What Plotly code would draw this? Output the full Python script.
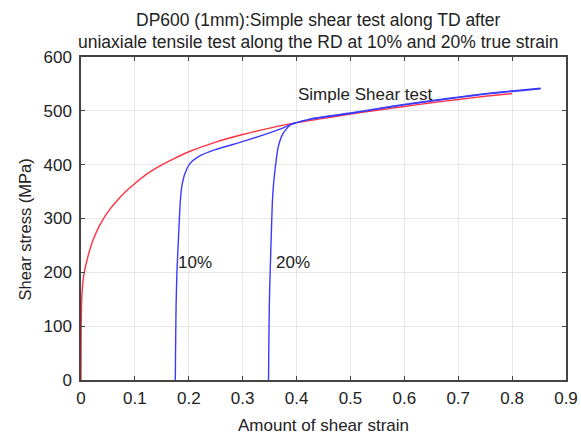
import plotly.graph_objects as go

# Monotonic simple shear curve (red)
shear_x = [0, 0.0003, 0.001, 0.002, 0.004, 0.007, 0.011, 0.016, 0.022, 0.03,
           0.04, 0.052, 0.066, 0.082, 0.1, 0.12, 0.143, 0.17, 0.2, 0.25,
           0.3, 0.35, 0.4, 0.45, 0.5, 0.55, 0.6, 0.65, 0.7, 0.75, 0.8]
shear_y = [0, 85, 140, 163, 186, 205, 222, 241, 259, 278,
           297, 315, 332, 349, 365, 381, 396, 410, 424, 442,
           456, 468, 478, 486, 494, 501, 508, 515, 521, 527, 532]

# Shear after 10% uniaxial pre-strain (blue)
pre10_x = [0.175, 0.1755, 0.1765, 0.178, 0.181, 0.184, 0.187, 0.193, 0.202, 0.218,
           0.249, 0.28, 0.31, 0.372, 0.393, 0.43, 0.5, 0.555, 0.6, 0.65, 0.703,
           0.75, 0.8, 0.853]
pre10_y = [0, 60, 140, 200, 266, 328, 359, 384, 402, 415,
           428, 437, 446, 467, 476, 485, 495, 504, 511, 518, 525,
           531, 536, 541]

# Shear after 20% uniaxial pre-strain (blue)
pre20_x = [0.348, 0.3485, 0.3495, 0.351, 0.353, 0.355, 0.357, 0.36, 0.366, 0.375,
           0.388, 0.4, 0.43, 0.5, 0.555, 0.6, 0.65, 0.703, 0.75, 0.8, 0.853]
pre20_y = [0, 60, 140, 200, 266, 328, 360, 390, 433, 458,
           474, 478, 486, 496, 505, 512, 519, 526, 532, 537, 542]

x_ticks = [0, 0.1, 0.2, 0.3, 0.4, 0.5, 0.6, 0.7, 0.8, 0.9]
x_tick_text = ["0", "0.1", "0.2", "0.3", "0.4", "0.5", "0.6", "0.7", "0.8", "0.9"]
y_ticks = [0, 100, 200, 300, 400, 500, 600]

labels = [("10%", 0.177, 219), ("20%", 0.359, 219), ("Simple Shear test", 0.399, 531)]
title_lines = ["DP600 (1mm):Simple shear test along TD after",
               "uniaxiale tensile test along the RD at 10% and 20% true strain"]

RED = "#ff3344"
BLUE = "#3b3bff"
INK = "#222222"
FONT = "Liberation Sans, Arial, sans-serif"
FS = 17

fig = go.Figure()
for xs, ys, col in [(shear_x, shear_y, RED), (pre10_x, pre10_y, BLUE), (pre20_x, pre20_y, BLUE)]:
    fig.add_trace(go.Scatter(x=xs, y=ys, mode="lines",
                             line=dict(color=col, width=1.4, shape="spline", smoothing=0.5)))

for text, lx, ly in labels:
    fig.add_annotation(x=lx, y=ly, text=text, showarrow=False, xanchor="left",
                       yanchor="middle", font=dict(size=FS, color=INK, family=FONT))

# Two-line heading placed above the plotting area
for line, yp in zip(title_lines, [1.1146, 1.0464]):
    fig.add_annotation(x=0.49, y=yp, xref="paper", yref="paper", text=line,
                       showarrow=False, xanchor="center", yanchor="middle",
                       font=dict(size=17.5, color=INK, family=FONT))

# Vertical axis caption
fig.add_annotation(x=-0.115, y=0.467, xref="paper", yref="paper", text="Shear stress (MPa)",
                   textangle=-90, showarrow=False, xanchor="center", yanchor="middle",
                   font=dict(size=16.5, color=INK, family=FONT))

axis_common = dict(showline=True, linecolor="#444444", linewidth=1.5, mirror="ticks",
                   ticks="inside", ticklen=4, tickcolor="#444444", automargin=False,
                   showgrid=True, gridcolor="#e6e6e6", gridwidth=1, zeroline=False,
                   tickfont=dict(size=FS, color=INK, family=FONT))

fig.update_layout(
    width=581, height=435,
    margin=dict(l=81, r=15, t=57, b=55),
    paper_bgcolor="white", plot_bgcolor="white",
    showlegend=False,
    font=dict(family=FONT, color=INK),
    xaxis=dict(range=[0, 0.9], tickvals=x_ticks, ticktext=x_tick_text,
               ticklabelstandoff=2,
               title=dict(text="Amount of shear strain", standoff=13,
                          font=dict(size=FS, color=INK, family=FONT)),
               **axis_common),
    yaxis=dict(range=[0, 600], tickvals=y_ticks, ticklabelstandoff=4,
               **axis_common),
)

fig.write_html("out.html")
